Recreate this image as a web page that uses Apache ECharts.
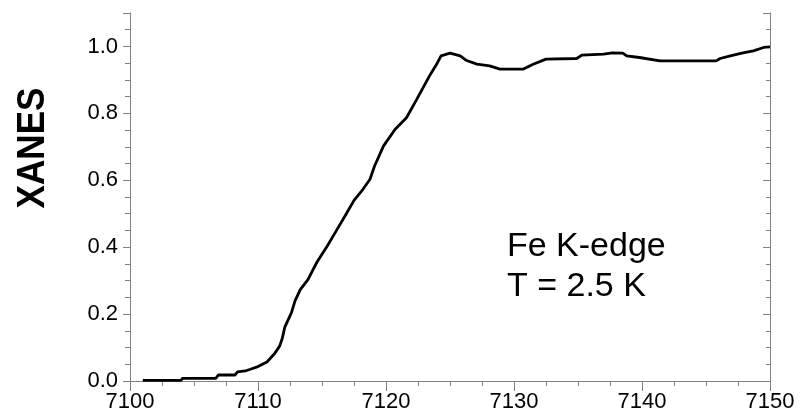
<!DOCTYPE html>
<html>
<head>
<meta charset="utf-8">
<script src="https://cdn.jsdelivr.net/npm/echarts@6/dist/echarts.min.js"></script>
<style>
html,body{margin:0;padding:0;background:#fff;}
#chart{width:800px;height:416px;}
</style>
</head>
<body>
<div id="chart"></div>
<script>
// Energy (eV) and normalized XANES values
const energy = [7101.0, 7104.0, 7104.1, 7106.7, 7106.9, 7108.2, 7108.4, 7109.0, 7109.4, 7110.0,
  7110.7, 7111.3, 7111.7, 7111.9, 7112.1, 7112.6, 7112.9, 7113.3, 7113.9, 7114.6,
  7115.4, 7116.1, 7116.9, 7117.5, 7118.2, 7118.75, 7119.1, 7119.8, 7120.7, 7121.6,
  7122.4, 7123.4, 7124.0, 7124.3, 7125.0, 7125.8, 7126.3, 7127.1, 7128.1, 7128.9,
  7130.7, 7131.5, 7132.5, 7134.9, 7135.3, 7137.0, 7137.7, 7138.5, 7138.8, 7139.8,
  7141.4, 7145.8, 7146.1, 7146.9, 7147.8, 7148.7, 7149.5, 7150.0];
const xanes = [0.002, 0.002, 0.008, 0.008, 0.018, 0.018, 0.027, 0.030, 0.035, 0.043,
  0.057, 0.082, 0.105, 0.128, 0.162, 0.203, 0.240, 0.273, 0.303, 0.355,
  0.403, 0.448, 0.500, 0.540, 0.573, 0.603, 0.642, 0.702, 0.752, 0.787,
  0.842, 0.912, 0.950, 0.972, 0.980, 0.972, 0.958, 0.947, 0.942, 0.932,
  0.932, 0.947, 0.962, 0.964, 0.974, 0.977, 0.981, 0.980, 0.972, 0.967,
  0.957, 0.957, 0.964, 0.972, 0.980, 0.987, 0.997, 0.999];
const xTicks = {min: 7100, max: 7150, interval: 10};
const yTicks = {min: 0, max: 1.1, interval: 0.2, minorInterval: 0.05};
const axisTitle = 'XANES';
const noteLines = ['Fe K-edge', 'T = 2.5 K'];

const axisColor = '#808080';
const font = '"Liberation Sans", Arial, sans-serif';
const chart = echarts.init(document.getElementById('chart'));

function xAxisDef(pos, inside, majorLen, showLabel) {
  return {
    type: 'value', position: pos, min: xTicks.min, max: xTicks.max, interval: xTicks.interval,
    axisLine: {show: true, lineStyle: {color: axisColor, width: 1}},
    axisTick: {show: true, inside: inside, length: majorLen, lineStyle: {color: axisColor}},
    minorTick: {show: true, splitNumber: 4, length: 5, lineStyle: {color: axisColor}},
    axisLabel: {show: showLabel, fontSize: 22, color: '#000', margin: 10, fontFamily: font,
      formatter: function (v) { return String(Math.round(v)); }},
    splitLine: {show: false}, minorSplitLine: {show: false}
  };
}
function yAxisDef(pos, inside, len, interval, showLine, showLabel) {
  return {
    type: 'value', position: pos, min: yTicks.min, max: yTicks.max, interval: interval,
    axisLine: {show: showLine, lineStyle: {color: axisColor, width: 1}},
    axisTick: {show: true, inside: inside, length: len, lineStyle: {color: axisColor}},
    axisLabel: {show: showLabel, fontSize: 22, color: '#000', margin: 12, fontFamily: font,
      formatter: function (v) { return v > 1.05 ? '' : v.toFixed(1); }},
    splitLine: {show: false}
  };
}

chart.setOption({
  animation: false,
  backgroundColor: '#fff',
  grid: {left: 130, right: 30, top: 13, bottom: 35, containLabel: false},
  xAxis: [
    xAxisDef('bottom', false, 8, true),
    xAxisDef('top', true, 10, false)
  ],
  yAxis: [
    yAxisDef('left', false, 7, yTicks.interval, true, true),
    yAxisDef('left', false, 5, yTicks.minorInterval, false, false),
    yAxisDef('right', true, 7, yTicks.interval, true, false),
    yAxisDef('right', true, 4, yTicks.minorInterval, false, false)
  ],
  series: [{
    type: 'line', xAxisIndex: 0, yAxisIndex: 0,
    data: energy.map((e, i) => [e, xanes[i]]),
    showSymbol: false, symbol: 'none',
    lineStyle: {color: '#000', width: 2.8},
    z: 5
  }],
  graphic: [
    {type: 'text', x: 33, y: 148, rotation: Math.PI / 2, scaleX: 0.9,
      style: {text: axisTitle, font: 'bold 39px ' + font, fill: '#000', align: 'center', verticalAlign: 'middle'}},
    {type: 'text', x: 507, y: 247,
      style: {text: noteLines[0], font: '34px ' + font, fill: '#000', align: 'left', verticalAlign: 'middle'}},
    {type: 'text', x: 507, y: 287,
      style: {text: noteLines[1], font: '34px ' + font, fill: '#000', align: 'left', verticalAlign: 'middle'}}
  ]
});
</script>
</body>
</html>
